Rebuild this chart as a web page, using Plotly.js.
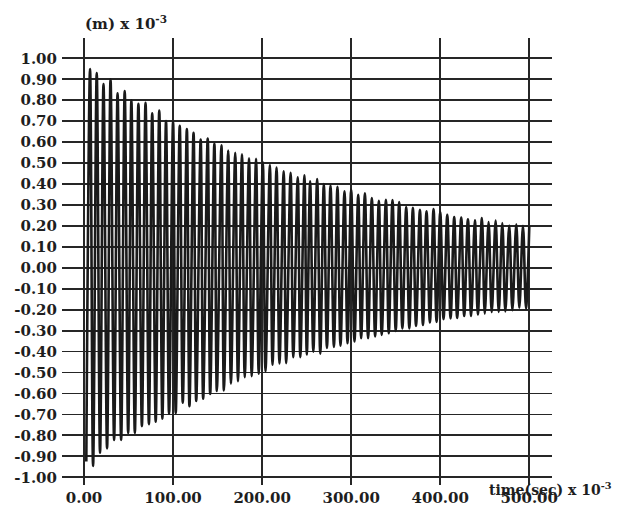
<!DOCTYPE html>
<html>
<head>
<meta charset="utf-8">
<script src="https://cdn.plot.ly/plotly-3.0.1.min.js"></script>
<style>
  html, body { margin: 0; padding: 0; background: #ffffff; }
  #chart { width: 623px; height: 510px; }
</style>
</head>
<body>
<div id="chart"></div>
<script>
// Peak (maximum) times (ms) and values (m x 1e-3)
const peakTimes = [6.8, 14.3, 21.9, 29.8, 37.7, 45.7, 53.2, 61.1, 69.1, 76.6,
  84.5, 92.1, 100.0, 107.5, 115.5, 123.0, 131.0, 138.9, 146.4, 154.3,
  161.9, 169.8, 177.4, 185.3, 193.2, 200.8, 208.7, 216.2, 224.2, 232.0,
  240.0, 247.5, 253.9, 261.8, 269.3, 276.8, 284.6, 292.5, 300.0, 307.9,
  315.4, 323.2, 331.1, 339.0, 346.4, 353.9, 361.8, 369.3, 377.2, 384.6,
  392.5, 400.0, 407.9, 415.7, 423.6, 431.1, 438.9, 446.8, 454.3, 462.2,
  469.7, 477.5, 485.4, 492.9, 500.0];
const peakValues = [0.949, 0.930, 0.877, 0.900, 0.833, 0.844, 0.800, 0.783, 0.788, 0.738,
  0.750, 0.700, 0.697, 0.678, 0.662, 0.644, 0.612, 0.617, 0.592, 0.585,
  0.560, 0.549, 0.542, 0.523, 0.520, 0.505, 0.490, 0.478, 0.461, 0.453,
  0.432, 0.442, 0.413, 0.424, 0.400, 0.392, 0.387, 0.365, 0.373, 0.349,
  0.355, 0.333, 0.320, 0.325, 0.323, 0.314, 0.290, 0.286, 0.277, 0.270,
  0.280, 0.266, 0.253, 0.242, 0.240, 0.232, 0.227, 0.238, 0.218, 0.226,
  0.213, 0.202, 0.208, 0.200, 0.198];

// Trough (minimum) times and values
const troughTimes = [2.6, 10.2, 18.0, 25.9, 33.8, 41.7, 49.6, 57.1, 65.0, 72.9,
  80.5, 88.0, 95.5, 103.0, 110.9, 118.4, 126.0, 133.8, 141.7, 149.2,
  157.1, 165.0, 172.9, 180.5, 188.3, 196.2, 203.8, 211.7, 219.5, 227.0,
  235.0, 242.9, 250.2, 257.5, 265.3, 272.8, 280.6, 288.0, 295.9, 303.7,
  311.2, 319.0, 326.9, 334.3, 342.2, 350.0, 357.5, 365.3, 372.8, 380.6,
  388.4, 395.9, 403.7, 411.6, 419.0, 426.9, 434.7, 442.2, 450.0, 457.8,
  465.7, 473.1, 481.0, 488.8, 496.3];
const troughValues = [-0.925, -0.946, -0.883, -0.862, -0.822, -0.822, -0.788, -0.788, -0.756, -0.746,
  -0.735, -0.720, -0.696, -0.693, -0.644, -0.661, -0.636, -0.625, -0.602, -0.588,
  -0.585, -0.553, -0.541, -0.522, -0.517, -0.506, -0.495, -0.463, -0.457, -0.455,
  -0.427, -0.427, -0.414, -0.400, -0.410, -0.383, -0.378, -0.372, -0.360, -0.352,
  -0.336, -0.336, -0.328, -0.320, -0.312, -0.302, -0.289, -0.289, -0.278, -0.273,
  -0.261, -0.258, -0.245, -0.242, -0.239, -0.230, -0.230, -0.223, -0.219, -0.211,
  -0.211, -0.208, -0.203, -0.191, -0.195];

const xTicks = [0, 100, 200, 300, 400, 500];
const yTicks = [-1.0, -0.9, -0.8, -0.7, -0.6, -0.5, -0.4, -0.3, -0.2, -0.1, 0.0,
  0.1, 0.2, 0.3, 0.4, 0.5, 0.6, 0.7, 0.8, 0.9, 1.0];

const yTitle = '(m) x 10<sup>-3</sup>';
const xTitle = 'time(sec) x 10<sup>-3</sup>';

// merge extrema in time order
const pts = [];
peakTimes.forEach((t, i) => pts.push([t, peakValues[i]]));
troughTimes.forEach((t, i) => pts.push([t, troughValues[i]]));
pts.sort((a, b) => a[0] - b[0]);

const ink = '#1e1e1e';
const font = { family: 'DejaVu Serif, serif', size: 15, color: ink, weight: 700 };

const trace = {
  type: 'scatter', mode: 'lines',
  x: pts.map(p => p[0]), y: pts.map(p => p[1]),
  line: { color: '#1a1a1a', width: 2.6, shape: 'spline', smoothing: 1 },
  hoverinfo: 'skip'
};

const layout = {
  width: 623, height: 510,
  margin: { l: 62, r: 71, t: 38, b: 25, pad: 0 },
  paper_bgcolor: '#ffffff', plot_bgcolor: '#ffffff',
  showlegend: false,
  font: font,
  xaxis: {
    range: [-24.7, 525.5], fixedrange: true,
    tickmode: 'array', tickvals: xTicks, ticktext: xTicks.map(v => v.toFixed(2)),
    showgrid: true, gridcolor: '#262626', gridwidth: 1.8,
    zeroline: false, showline: false, ticks: '',
    ticklabelstandoff: 2,
    tickfont: font
  },
  yaxis: {
    range: [-1.0368, 1.0969], fixedrange: true,
    tickmode: 'array', tickvals: yTicks, ticktext: yTicks.map(v => v.toFixed(2)),
    showgrid: true, gridcolor: '#262626', gridwidth: 1.8,
    zeroline: false, showline: false, ticks: '',
    ticklabelstandoff: 4,
    tickfont: font
  },
  annotations: [
    { text: yTitle, xref: 'paper', yref: 'paper', x: (83 - 62) / 490, y: 1 + (38 - 23) / 447,
      xanchor: 'left', yanchor: 'middle', showarrow: false, font: font },
    { text: xTitle, xref: 'paper', yref: 'paper', x: (487 - 62) / 490, y: (485 - 489) / 447,
      xanchor: 'left', yanchor: 'middle', showarrow: false,
      font: { family: 'DejaVu Serif, serif', size: 14, color: ink, weight: 700 } }
  ]
};

Plotly.newPlot('chart', [trace], layout, { staticPlot: true, displayModeBar: false });
</script>
</body>
</html>
